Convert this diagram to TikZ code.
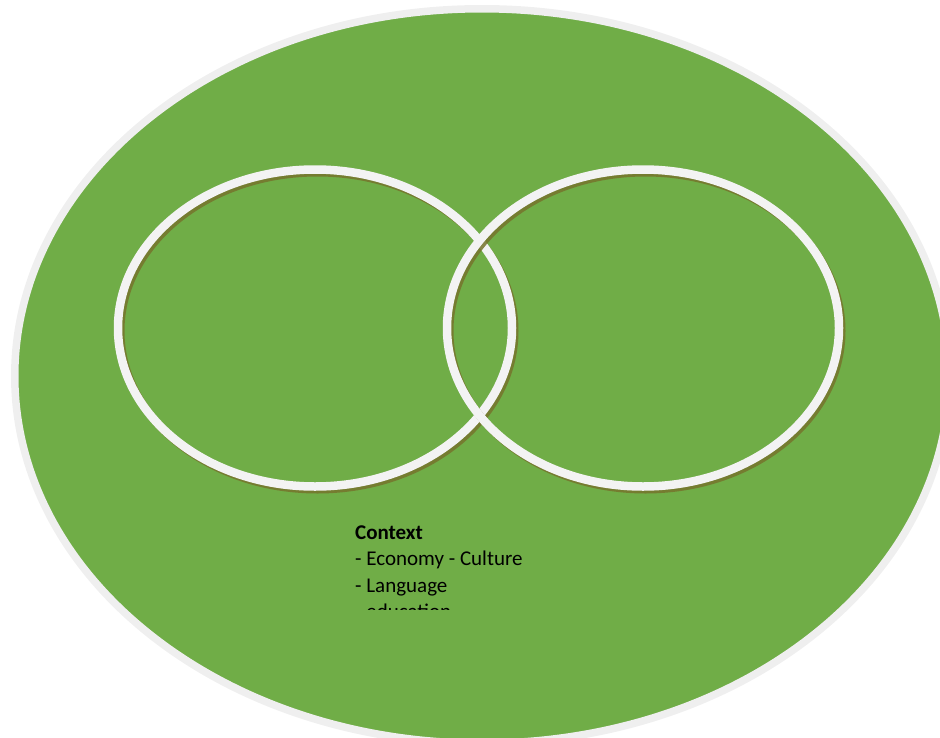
\documentclass[tikz,border=0pt]{standalone}
\usepackage{fontspec}
\setmainfont{Carlito}
\definecolor{fieldgreen}{RGB}{112,173,71}
\definecolor{rimgray}{RGB}{239,239,239}
\definecolor{ringwhite}{RGB}{243,243,243}
\definecolor{ringshadow}{RGB}{118,116,44}
\tikzset{
  field/.style={fill=fieldgreen, draw=rimgray, line width=7.5pt},
  ringshade/.style={draw=ringshadow, line width=8pt, opacity=0.85},
  ring/.style={draw=ringwhite, line width=8.5pt},
  label/.style={inner sep=0pt, align=left, anchor=base west,
    font=\fontsize{21}{26.5}\selectfont}
}
\begin{document}
\begin{tikzpicture}[x=1pt, y=-1pt]
  \useasboundingbox (0,0) rectangle (940,737);
  \clip (0,0) rectangle (940,737);
  % outer field
  \draw[field] (482,376) ellipse [x radius=467.25pt, y radius=367.25pt];
  % left ring
  \draw[ringshade] (317.5,331) ellipse [x radius=197pt, y radius=158.5pt];
  \draw[ring] (315,328) ellipse [x radius=197pt, y radius=158.5pt];
  % right ring
  \draw[ringshade] (645.5,331) ellipse [x radius=196pt, y radius=158.5pt];
  \draw[ring] (643,328) ellipse [x radius=196pt, y radius=158.5pt];
  % context list, cut off at the bottom (anchored on its last baseline)
  \begin{scope}
    \clip (340,500) rectangle (620,609);
    \node[label] (context) at (355,618.5)
      {\textbf{Context}\\- Economy - Culture\\- Language\\- education};
  \end{scope}
\end{tikzpicture}
\end{document}
